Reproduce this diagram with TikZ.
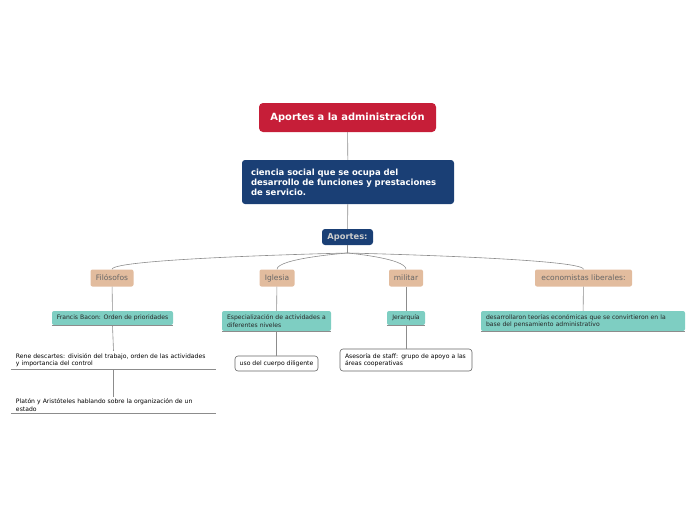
\documentclass[tikz,border=0pt]{standalone}
\usepackage{fontspec}
\setmainfont{DejaVu Sans}
\definecolor{rojo}{RGB}{198,30,56}
\definecolor{azul}{RGB}{26,63,117}
\definecolor{tan}{RGB}{226,188,158}
\definecolor{teal}{RGB}{126,206,194}
\definecolor{linea}{RGB}{140,140,140}
\newcommand\chico{\fontsize{6.1}{7.6}\selectfont}

\begin{document}
\begin{tikzpicture}[x=1pt,y=-1pt,
  every node/.style={inner sep=0pt},
  titulo/.style={fill=rojo,text=white,rounded corners=4pt,font=\fontsize{9.9}{11}\selectfont\bfseries},
  azulbox/.style={fill=azul,text=white,rounded corners=3pt},
  cat/.style={fill=tan,text=black!60,rounded corners=2pt,minimum height=17pt,font=\fontsize{7.5}{8}\selectfont},
  hoja/.style={fill=teal,text=black!85,rounded corners=2pt,font=\chico},
  blanca/.style={draw=black!60,line width=0.6pt,fill=white,rounded corners=3pt,font=\chico},
  texto/.style={text width=195pt,inner xsep=5pt,inner ysep=2pt,align=left,font=\chico},
  rama/.style={draw=linea,line width=0.6pt}]
\useasboundingbox (0,0) rectangle (696,520);

% centro
\node [titulo,minimum width=177pt,minimum height=29pt] (tit) at (347.5,117.5) {Aportes a la administración};
\node [azulbox,text width=194pt,inner xsep=9pt,minimum height=44pt,align=left,
  font=\fontsize{8.5}{10}\selectfont\bfseries] (cien) at (348,182)
  {ciencia social que se ocupa del\\desarrollo de funciones y prestaciones\\de servicio.};
\node [azulbox,text=black!20,minimum width=51pt,minimum height=16pt,
  font=\fontsize{8.3}{9}\selectfont\bfseries] (apo) at (347.5,237) {Aportes:};
\coordinate (tallo) at (347.5,253);

% categorias
\node [cat,minimum width=43pt] (filo) at (112,278) {Filósofos};
\node [cat,minimum width=35pt] (igle) at (277,278) {Iglesia};
\node [cat,minimum width=34pt] (mili) at (406,278) {militar};
\node [cat,minimum width=97pt] (econ) at (583.5,278) {economistas liberales:};

% hojas
\node [hoja,minimum width=121pt,minimum height=14pt] (bacon) at (112.5,318) {Francis Bacon: Orden de prioridades};
\node [hoja,text width=99pt,inner xsep=5pt,minimum height=20pt,align=left] (espe) at (276.5,321)
  {Especialización de actividades a\\diferentes niveles};
\node [hoja,minimum width=38pt,minimum height=14pt] (jera) at (406,318) {Jerarquía};
\node [hoja,text width=194pt,inner xsep=5pt,minimum height=20pt,align=left] (desa) at (583,321)
  {desarrollaron teorías económicas que se convirtieron en la\\base del pensamiento administrativo};

\node [texto] (rene) at (113.5,360)
  {Rene descartes: división del trabajo, orden de las actividades\\y importancia del control};
\node [texto] (plat) at (113.5,405)
  {Platón y Aristóteles hablando sobre la organización de un\\estado};
\node [blanca,minimum width=83pt,minimum height=15pt] (uso) at (276.5,363.5) {uso del cuerpo diligente};
\node [blanca,text width=122pt,inner xsep=5pt,minimum height=22pt,align=left] (ases) at (406,360)
  {Asesoría de staff: grupo de apoyo a las\\áreas cooperativas};

% lineas bajo las cajas
\foreach \n in {bacon,espe,jera,desa,rene,plat}
  \draw [black!45,line width=0.6pt] (\n.south west) -- (\n.south east);

% conexiones
\draw [rama] (tit) -- (cien);
\draw [rama] (cien) -- (apo);
\draw [rama,line width=1pt] (apo.south) -- (tallo);
\foreach \n in {filo,igle,mili,econ}
  \draw [rama] (tallo) .. controls +(0,0) and +(0,-11) .. (\n.north);
\draw [rama] (filo) -- (bacon);
\draw [rama] (bacon.south) -- (rene.north);
\draw [rama] (rene.south) -- (plat.north);
\draw [rama] (igle) -- (espe);
\draw [rama] (espe) -- (uso);
\draw [rama] (mili) -- (jera);
\draw [rama] (jera) -- (ases);
\draw [rama] (econ) -- (desa);
\end{tikzpicture}
\end{document}
